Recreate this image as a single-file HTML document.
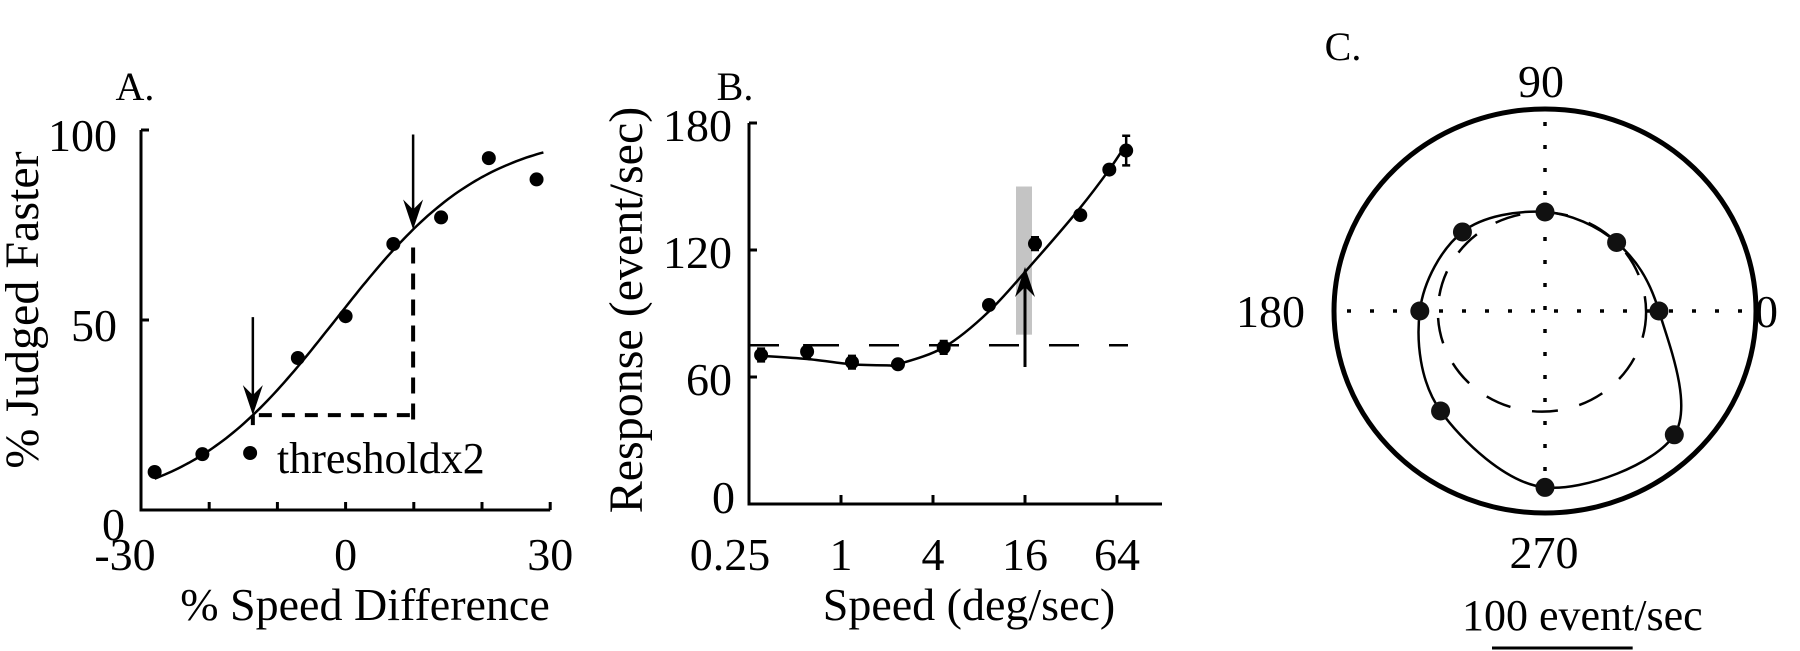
<!DOCTYPE html>
<html><head><meta charset="utf-8"><style>
html,body{margin:0;padding:0;background:#fff;}
svg{display:block;font-family:"Liberation Serif",serif;}
</style></head><body>
<svg id="fig" width="1800" height="651" viewBox="0 0 1800 651" xmlns="http://www.w3.org/2000/svg">
<g id="pa"></g>
<g id="pb"></g>
<g id="pc"></g>
</svg>
<script>
// ---- Panel A data ----
const aX = [-28, -21, -14, -7, 0, 7, 14, 21, 28];
const aY = [10, 14.7, 15, 40, 51, 70, 77, 92.6, 87];
const aXTicks = [-30, 0, 30];
const aYTicks = [0, 50, 100];
const aThreshLow = -13.6, aThreshHigh = 9.9;
// ---- Panel B data ----
const bSpeed = [0.3, 0.6, 1.18, 2.36, 4.7, 9.3, 18.6, 36.8, 57, 73.5];
const bResp = [70.4, 72, 67, 66, 74, 94, 123, 136.5, 158, 167];
const bErr = [3, 3, 3, 2, 3, 2, 3, 2, 2, 7];
const bFitSpeed = [0.3, 0.6, 1.18, 2, 2.36, 4.7, 9.3, 18.6, 36.8, 57, 73.5];
const bFitResp = [70, 68.5, 66, 65.5, 66, 74, 91, 115, 140, 158, 170];
const bXTicks = [0.25, 1, 4, 16, 64];
const bXTickLabels = ["0.25", "1", "4", "16", "64"];
const bYTicks = [0, 60, 120, 180];
const bBaseline = 75;
const bShadeLo = 80, bShadeHi = 150, bShadeSpeed = 16;
// ---- Panel C data ----
const cDir = [0, 45, 90, 135, 180, 225, 270, 315];
const cResp = [81, 72, 73.5, 83, 89, 105, 131, 130];
const cBaseR = 74;
const cMax = 150;

const NS = "http://www.w3.org/2000/svg";
function mk(parent, tag, attrs, text){
  const e = document.createElementNS(NS, tag);
  for (const k in attrs) e.setAttribute(k, attrs[k]);
  if (text !== undefined) e.textContent = text;
  parent.appendChild(e);
  return e;
}
function crPath(pts, closed){
  const n = pts.length; let d = "M" + pts[0][0] + "," + pts[0][1];
  const get = i => closed ? pts[(i + n) % n] : pts[Math.max(0, Math.min(n - 1, i))];
  const segs = closed ? n : n - 1;
  for (let i = 0; i < segs; i++){
    const p0 = get(i - 1), p1 = get(i), p2 = get(i + 1), p3 = get(i + 2);
    const c1 = [p1[0] + (p2[0] - p0[0]) / 6, p1[1] + (p2[1] - p0[1]) / 6];
    const c2 = [p2[0] - (p3[0] - p1[0]) / 6, p2[1] - (p3[1] - p1[1]) / 6];
    d += " C" + c1.join(",") + " " + c2.join(",") + " " + p2.join(",");
  }
  return d + (closed ? "Z" : "");
}
function arrowHead(g, x, tipY, dir){
  const p = `M${x},${tipY} L${x-10},${tipY-dir*30} L${x},${tipY-dir*20} L${x+10},${tipY-dir*30} Z`;
  return mk(g, "path", {d: p, fill: "#000"});
}

// ================= Panel A =================
(function(){
  const g = document.getElementById("pa");
  const X = v => 141 + (v + 30) * 6.82;
  const Y = v => 510 - v * 3.8;
  let e;
  e = mk(g, "text", {x: 135, y: 100, "font-size": 40, "text-anchor": "middle"}, "A.");
   
  e = mk(g, "path", {d: `M${X(-30)},${Y(100)} V${Y(0)} H${X(30)}`, stroke: "#000", "stroke-width": 3, fill: "none"});
   
  aYTicks.forEach(t => {
    mk(g, "line", {x1: X(-30), x2: X(-30) + 8, y1: Y(t), y2: Y(t), stroke: "#000", "stroke-width": 3});
    const lab = mk(g, "text", {x: t === 0 ? 125 : 117, y: t === 0 ? 540 : Y(t) + 21, "font-size": 46, "text-anchor": "end"}, String(t));
     
  });
  for (let t = -20; t <= 30; t += 10) mk(g, "line", {x1: X(t), x2: X(t), y1: Y(0), y2: Y(0) - 8, stroke: "#000", "stroke-width": 3});
  aXTicks.forEach(t => {
    const lab = mk(g, "text", {x: t === -30 ? 125 : X(t), y: 570, "font-size": 46, "text-anchor": "middle"}, String(t));
     
  });
  e = mk(g, "text", {x: 365, y: 620, "font-size": 46, "text-anchor": "middle"}, "% Speed Difference");
   
  e = mk(g, "text", {x: 0, y: 0, "font-size": 48, "text-anchor": "middle", transform: "translate(38,310) rotate(-90)"}, "% Judged Faster");
   
  const fit = v => 100 / (1 + Math.exp(-(v + 1.5) / 11));
  let d = "";
  for (let v = -28; v <= 29; v += 0.5) d += (d ? " L" : "M") + X(v).toFixed(1) + "," + Y(fit(v)).toFixed(1);
  e = mk(g, "path", {d, stroke: "#000", "stroke-width": 2.5, fill: "none"});
   
  const yl = Y(fit(aThreshLow)), yh = Y(fit(aThreshHigh));
  e = mk(g, "line", {x1: X(aThreshLow) + 6, x2: X(aThreshHigh), y1: yl, y2: yl, stroke: "#000", "stroke-width": 4, "stroke-dasharray": "13 10"});
   
  e = mk(g, "line", {x1: X(aThreshHigh), x2: X(aThreshHigh), y1: yh + 18, y2: yl + 10, stroke: "#000", "stroke-width": 4, "stroke-dasharray": "16 10"});
   
  mk(g, "line", {x1: X(aThreshLow), x2: X(aThreshLow), y1: yl, y2: yl + 10, stroke: "#000", "stroke-width": 4});
  [[aThreshLow, yl, yl - 98], [aThreshHigh, yh, yh - 95]].forEach(([v, tip, top]) => {
    const a = mk(g, "line", {x1: X(v), x2: X(v), y1: top, y2: tip - 10, stroke: "#000", "stroke-width": 2.5});
     
    arrowHead(g, X(v), tip, 1);
  });
  aX.forEach((v, i) => {
    const c = mk(g, "circle", {cx: X(v), cy: Y(aY[i]), r: 7, fill: "#000"});
     
  });
  e = mk(g, "text", {x: 277, y: 473, "font-size": 44}, "thresholdx2");
   
})();

// ================= Panel B =================
(function(){
  const g = document.getElementById("pb");
  const X = s => 841 + 46 * Math.log2(s);
  const Y = v => 504 - v * (381 / 180);
  let e;
  e = mk(g, "text", {x: 735, y: 100, "font-size": 40, "text-anchor": "middle"}, "B.");
   
  e = mk(g, "path", {d: `M749,${Y(180)} V${Y(0)} H1162`, stroke: "#000", "stroke-width": 3, fill: "none"});
   
  bYTicks.forEach(t => {
    if (t > 0) mk(g, "line", {x1: 749, x2: 757, y1: Y(t), y2: Y(t), stroke: "#000", "stroke-width": 3});
    const lab = mk(g, "text", {x: t === 0 ? 735 : 732, y: t === 0 ? 513 : Y(t) + 18, "font-size": 46, "text-anchor": "end"}, String(t));
     
  });
  bXTicks.forEach((t, i) => {
    if (i > 0) mk(g, "line", {x1: X(t), x2: X(t), y1: Y(0), y2: Y(0) - 9, stroke: "#000", "stroke-width": 3});
    const lab = mk(g, "text", {x: i === 0 ? 730 : X(t), y: 570, "font-size": 46, "text-anchor": "middle"}, bXTickLabels[i]);
     
  });
  e = mk(g, "text", {x: 969, y: 620, "font-size": 46, "text-anchor": "middle"}, "Speed (deg/sec)");
   
  e = mk(g, "text", {x: 0, y: 0, "font-size": 48, "text-anchor": "middle", transform: "translate(642,310) rotate(-90)"}, "Response (event/sec)");
   
  e = mk(g, "rect", {x: X(bShadeSpeed) - 9, y: Y(bShadeHi), width: 16, height: Y(bShadeLo) - Y(bShadeHi), fill: "#c4c4c4"});
   
  e = mk(g, "line", {x1: 749, x2: 1128, y1: Y(bBaseline), y2: Y(bBaseline), stroke: "#000", "stroke-width": 2.5, "stroke-dasharray": "30 30"});
   
  e = mk(g, "path", {d: crPath(bFitSpeed.map((s, i) => [X(s), Y(bFitResp[i])]), false), stroke: "#000", "stroke-width": 2.5, fill: "none"});
   
  e = mk(g, "line", {x1: X(bShadeSpeed), x2: X(bShadeSpeed), y1: 367, y2: 280, stroke: "#000", "stroke-width": 3});
   
  arrowHead(g, X(bShadeSpeed), 267, -1);
  bSpeed.forEach((s, i) => {
    const x = X(s);
    const eb = mk(g, "path", {d: `M${x},${Y(bResp[i] - bErr[i])} V${Y(bResp[i] + bErr[i])} M${x-4},${Y(bResp[i] - bErr[i])} h8 M${x-4},${Y(bResp[i] + bErr[i])} h8`, stroke: "#000", "stroke-width": 2.5, fill: "none"});
     
    const c = mk(g, "circle", {cx: x, cy: Y(bResp[i]), r: 7, fill: "#000"});
     
  });
})();

// ================= Panel C =================
(function(){
  const g = document.getElementById("pc");
  const cx = 1545, cy = 311, sx = 211 / cMax, sy = 202 / cMax;
  const P = (deg, r) => [cx + r * sx * Math.cos(deg * Math.PI / 180), cy - r * sy * Math.sin(deg * Math.PI / 180)];
  let e;
  e = mk(g, "text", {x: 1343, y: 60, "font-size": 40, "text-anchor": "middle"}, "C.");
   
  e = mk(g, "ellipse", {cx, cy, rx: cMax * sx, ry: cMax * sy, stroke: "#000", "stroke-width": 5, fill: "none"});
   
  e = mk(g, "line", {x1: 1347, x2: 1745, y1: cy, y2: cy, stroke: "#000", "stroke-width": 3.5, "stroke-dasharray": "4 19"});
   
  e = mk(g, "line", {x1: cx, x2: cx, y1: 122, y2: 500, stroke: "#000", "stroke-width": 3.5, "stroke-dasharray": "4 19"});
   
  e = mk(g, "ellipse", {cx: cx - 3, cy: cy + 1, rx: cBaseR * sx, ry: cBaseR * sy, stroke: "#000", "stroke-width": 2.5, fill: "none", "stroke-dasharray": "26 22"});
   
  const pts = cDir.map((d, i) => P(d, cResp[i]));
  e = mk(g, "path", {d: crPath(pts, true), stroke: "#000", "stroke-width": 2.5, fill: "none"});
   
  pts.forEach(p => {
    const c = mk(g, "circle", {cx: p[0], cy: p[1], r: 9.5, fill: "#111"});
     
  });
  [["90", 1541, 97, "middle"], ["180", 1305, 327, "end"], ["0", 1755, 327, "start"], ["270", 1544, 568, "middle"]].forEach(([t, x, y, a]) => {
    const lab = mk(g, "text", {x, y, "font-size": 46, "text-anchor": a}, t);
     
  });
  e = mk(g, "text", {x: 1462, y: 630, "font-size": 44}, "100 event/sec");
   
  e = mk(g, "line", {x1: cx - 53, x2: cx - 53 + 100 * sx, y1: 648, y2: 648, stroke: "#000", "stroke-width": 3});
   
})();
</script>
</body></html>
